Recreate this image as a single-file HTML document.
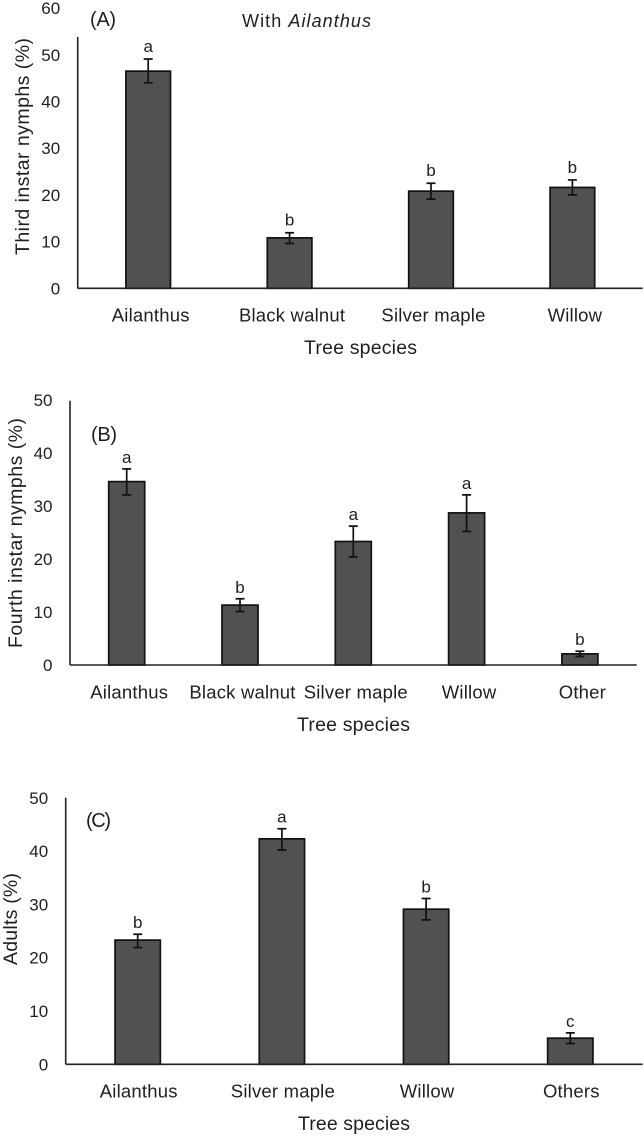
<!DOCTYPE html>
<html lang="en">
<head>
<meta charset="utf-8">
<title>Tree species bar charts</title>
<style>
html,body{margin:0;padding:0;background:#fff;width:644px;height:1136px;overflow:hidden}
svg{display:block;filter:blur(0.35px)}
text{font-family:"Liberation Sans",sans-serif;fill:#1f1f1f}
.tick{font-size:17px}
.cat{font-size:18.5px;letter-spacing:.2px}
.letter{font-size:17px}
.axis-title{font-size:19.5px}
.panel-label{font-size:20px}
.note{font-size:18px}
</style>
</head>
<body>
<svg id="figure" xmlns="http://www.w3.org/2000/svg" width="644" height="1136" viewBox="0 0 644 1136">
  <text class="panel-label" x="90" y="26" textLength="26">(A)</text>
  <text class="note" x="242" y="27" textLength="129">With <tspan font-style="italic">Ailanthus</tspan></text>
  <text class="axis-title" x="304" y="354" textLength="113">Tree species</text>
  <text class="axis-title" transform="translate(29,255) rotate(-90)" textLength="217">Third instar nymphs (%)</text>

  <text class="panel-label" x="91" y="441" textLength="26">(B)</text>
  <text class="axis-title" x="297" y="731" textLength="113">Tree species</text>
  <text class="axis-title" transform="translate(22,648) rotate(-90)" textLength="230">Fourth instar nymphs (%)</text>

  <text class="panel-label" x="86" y="827" textLength="25">(C)</text>
  <text class="axis-title" x="298" y="1130" textLength="112">Tree species</text>
  <text class="axis-title" transform="translate(17,965) rotate(-90)" textLength="92">Adults (%)</text>
</svg>
<script>
const categoriesA = ["Ailanthus", "Black walnut", "Silver maple", "Willow"];
const valuesA = [46.5, 10.8, 20.8, 21.6];
const errorHighA = [49.1, 11.9, 22.5, 23.2];
const errorLowA = [44.0, 9.6, 19.1, 20.0];
const lettersA = ["a", "b", "b", "b"];
const ticksA = [0, 10, 20, 30, 40, 50, 60];

const categoriesB = ["Ailanthus", "Black walnut", "Silver maple", "Willow", "Other"];
const valuesB = [34.6, 11.3, 23.3, 28.7, 2.1];
const errorHighB = [37.0, 12.5, 26.2, 32.1, 2.6];
const errorLowB = [32.1, 10.1, 20.4, 25.2, 1.6];
const lettersB = ["a", "b", "a", "a", "b"];
const ticksB = [0, 10, 20, 30, 40, 50];

const categoriesC = ["Ailanthus", "Silver maple", "Willow", "Others"];
const valuesC = [23.3, 42.3, 29.1, 4.9];
const errorHighC = [24.4, 44.2, 31.1, 5.9];
const errorLowC = [21.9, 40.2, 27.1, 3.9];
const lettersC = ["b", "a", "b", "c"];
const ticksC = [0, 10, 20, 30, 40, 50];

const svg = document.getElementById('figure');
const NS = 'http://www.w3.org/2000/svg';

function make(tag, props, parent) {
  const el = document.createElementNS(NS, tag);
  Object.keys(props).forEach(function (k) { el.setAttribute(k, props[k]); });
  parent.appendChild(el);
  return el;
}

function drawPanel(id, categories, values, high, low, letters, ticks, layout) {
  const group = make('g', {}, svg);
  
  

  const yPos = function (v) { return layout.baseY - (v / 10) * layout.unitPer10; };
  const xPos = function (i) { return layout.firstX + i * layout.stepX; };

  ticks.forEach(function (t) {
    const label = make('text', { class: 'tick', x: layout.axisX - layout.tickGap, y: yPos(t) + 6, 'text-anchor': 'end' }, group);
    
    
    label.textContent = t;
  });

  categories.forEach(function (c, i) {
    const cx = xPos(i);
    const w = layout.barWidth;
    const bar = make('rect', { x: cx - w / 2, y: yPos(values[i]), width: w, height: layout.baseY - yPos(values[i]), fill: '#515151', stroke: '#111', 'stroke-width': 1.7 }, group);
    
    

    const hi = yPos(high[i]);
    const lo = yPos(low[i]);
    const err = make('path', { d: 'M' + (cx - 4.5) + ' ' + hi + 'H' + (cx + 4.5) + 'M' + cx + ' ' + hi + 'V' + lo + 'M' + (cx - 4.5) + ' ' + lo + 'H' + (cx + 4.5), fill: 'none', stroke: '#111', 'stroke-width': 1.7 }, group);
    
    

    const letter = make('text', { class: 'letter', x: cx, y: hi - layout.letterGap, 'text-anchor': 'middle' }, group);
    
    
    letter.textContent = letters[i];

    const cat = make('text', { class: 'cat', x: cx + layout.catShift, y: layout.catY, 'text-anchor': 'middle' }, group);
    
    
    cat.textContent = c;
  });

  const yAxis = make('line', { x1: layout.axisX, x2: layout.axisX, y1: layout.axisTop, y2: layout.baseY, stroke: '#222', 'stroke-width': 1.6 }, group);
  
  

  const xAxis = make('line', { x1: layout.axisX, x2: layout.axisRight, y1: layout.baseY, y2: layout.baseY, stroke: '#222', 'stroke-width': 1.6 }, group);
  
  
}

drawPanel('a', categoriesA, valuesA, errorHighA, errorLowA, lettersA, ticksA, {
  baseY: 288.3, unitPer10: 46.7, axisX: 77.7, axisTop: 37, axisRight: 642.7,
  firstX: 148.2, stepX: 141.4, barWidth: 44.6, tickGap: 17.5, letterGap: 7, catShift: 2.5, catY: 321.7
});
drawPanel('b', categoriesB, valuesB, errorHighB, errorLowB, lettersB, ticksB, {
  baseY: 665, unitPer10: 53, axisX: 70, axisTop: 400.7, axisRight: 636.7,
  firstX: 126.7, stepX: 113.3, barWidth: 36, tickGap: 17.5, letterGap: 6, catShift: 2.5, catY: 698.3
});
drawPanel('c', categoriesC, valuesC, errorHighC, errorLowC, lettersC, ticksC, {
  baseY: 1064.3, unitPer10: 53.3, axisX: 65.7, axisTop: 797.7, axisRight: 642.7,
  firstX: 137.7, stepX: 144.2, barWidth: 45.3, tickGap: 17.5, letterGap: 6, catShift: 1, catY: 1097.7
});
</script>
</body>
</html>
